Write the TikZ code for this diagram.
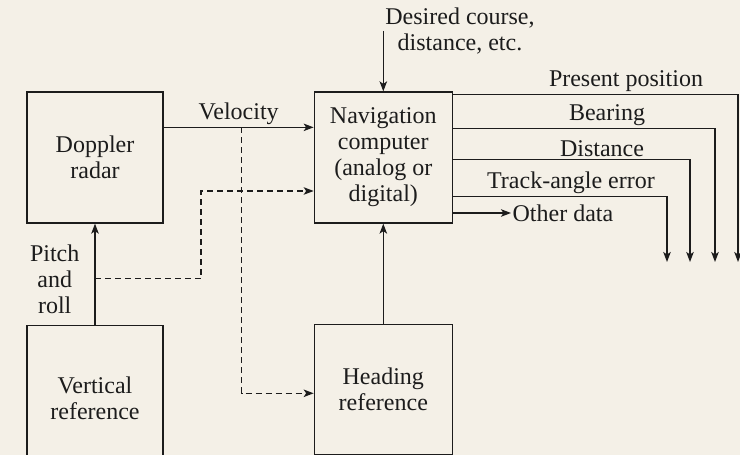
\documentclass[tikz,border=0pt]{standalone}
\usepackage{fontspec}
\setmainfont{Liberation Serif}
\usepackage{tikz}
\usetikzlibrary{arrows.meta,positioning}
\definecolor{paper}{HTML}{F4F0E7}
\definecolor{ink}{HTML}{1C1C1C}

\begin{document}
\begin{tikzpicture}[x=1pt,y=1pt,>={Stealth[length=10pt,width=7.5pt,inset=2.5pt]},line width=1.3pt,
    font=\fontsize{24}{26}\selectfont,text=ink,
    block/.style={draw=ink,minimum width=136pt,minimum height=131pt,align=center,inner sep=2pt},
    lbl/.style={align=center,inner sep=1pt},
    link/.style={->,draw=ink},
    dlink/.style={->,draw=ink,dash pattern=on 6pt off 4pt}]
    \useasboundingbox (0,0) rectangle (740,455);
    \clip (0,0) rectangle (740,455);
    \fill[paper] (0,0) rectangle (740,455);
    \node[block] (radar) at (95,297.5) {Doppler\\radar};
    \node[block,minimum width=138pt,right=150pt of radar] (nav) {Navigation\\computer\\(analog or\\digital)};
    \node[block,minimum height=146pt,below=101pt of radar] (vref) {Vertical\\reference};
    \node[block,minimum width=138pt,minimum height=130pt,below=100pt of nav] (href) {Heading\\reference};
    \node[lbl] (desired) at (460,424) {Desired course,\\distance, etc.};
    \node[lbl,anchor=west] (odata) at (511,242) {Other data};
    \coordinate (din) at (nav.north |- desired.center);
    \draw[link] ([yshift=-36pt]radar.north east) -- ([yshift=-36pt]nav.north west) node[lbl,midway,above=1pt] {Velocity} coordinate[pos=0.52] (vtap);
    \draw[link] (vref.north) -- (radar.south) node[lbl,midway,left=14pt,yshift=-5pt] {Pitch\\and\\roll} coordinate[pos=0.455] (ptap);
    \draw[dlink] (vtap) |- ([yshift=-4pt]href.west);
    \draw[dlink] (ptap) -- ++(106,0) |- ([yshift=-33.5pt]nav.west);
    \draw[link] (href.north) -- (nav.south);
    \draw[link] (din) -- (nav.north);
    \draw[link] (nav.east |- odata.west) -- (odata.west);
    \foreach \dy/\xe/\xl/\txt in {3/738/626/Present position,37/715/607/Bearing,68/690/602/Distance,105/667/571/Track-angle error}{
        \coordinate (end\xe) at (\xe,193);
        \draw[link] ([yshift=-\dy pt]nav.north east) -| (end\xe);
        \node[lbl,above=2pt] at (\xl,{363-\dy}) {\txt};
    }
\end{tikzpicture}
\end{document}
